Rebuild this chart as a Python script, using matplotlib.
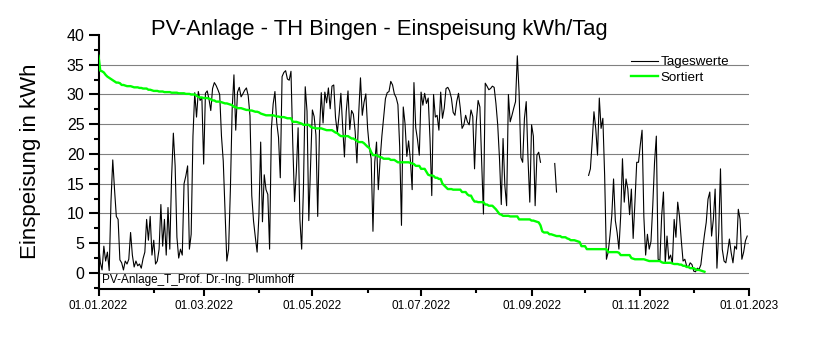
import numpy as np
import pandas as pd
import matplotlib
matplotlib.use('Agg')
import matplotlib.pyplot as plt
import matplotlib.dates as mdates
from matplotlib.ticker import MultipleLocator

nan = np.nan

# Daily feed-in values (kWh/day) for 2022; NaN = no data
tageswerte = [
    5.2, 1.8, 0.5, 4.5, 2, 3.5, 0.4, 12, 19, 14,
    9.5, 9, 2.2, 1.7, 0.5, 2, 1.5, 2.3, 6.8, 3,
    1, 2, 1.2, 1.5, 0.8, 2.4, 3.5, 9, 5.5, 9.5,
    3, 5.5, 1.5, 2, 4, 11.5, 4.5, 9, 3, 11,
    4, 16, 23.5, 18, 6, 2.5, 4, 3, 15, 16.3,
    18, 4, 6.5, 23, 30.3, 26.2, 30.5, 29, 29.5, 18.3,
    30.2, 30.6, 29.2, 27.3, 31, 32, 31.5, 30.8, 30, 23,
    18.8, 10.3, 2, 4, 14, 27.5, 33.3, 24, 30.4, 31.2,
    29.6, 30.1, 30.7, 31.1, 29.8, 26.4, 13, 8.7, 6, 3.5,
    9.6, 22, 8.6, 16.5, 14, 13.2, 4, 24.2, 28.4, 30.5,
    25.3, 22.8, 16, 33, 33.7, 34, 32.6, 32.4, 33.9, 21.8,
    12, 17, 24.4, 9, 4, 14.4, 31.3, 27.2, 8.8, 18,
    27.4, 26.3, 23.2, 9.5, 24, 30.3, 25.2, 30.4, 28.6, 31.1,
    27.6, 31.4, 31.6, 26.1, 23.6, 26.6, 30.2, 24.6, 19.5, 27.1,
    30.6, 24.1, 27.3, 26.7, 23.8, 18.5, 26.8, 32.8, 26.5, 28.7,
    30.1, 24.3, 21, 19.2, 7, 18.6, 22, 14, 19, 23,
    26.2, 29.3, 30.3, 30.5, 32.2, 31.6, 30.1, 29.5, 28.3, 21.2,
    8, 27.9, 25.1, 19.6, 22.2, 19, 14, 32, 24.4, 22.4,
    19.8, 30.4, 28.2, 30.2, 28.5, 29.4, 22.6, 13, 30, 26.2,
    26.5, 24, 30.4, 26, 27.7, 31, 31.2, 30.6, 29.4, 27,
    26.5, 28.8, 30.2, 27.7, 24.3, 24.9, 26.5, 25.4, 24.9, 27.4,
    26.3, 17.5, 25.4, 29, 27.9, 18.6, 9.9, 31.9, 31.4, 30.8,
    31, 31.4, 31.2, 28.5, 24.9, 19.2, 11.5, 22.6, 14.7, 11.3,
    30, 25.4, 26.5, 27.7, 28.8, 36.5, 30.3, 19.4, 18.6, 26,
    28.8, 19.2, 11.9, 24.9, 23, 11.3, 19.8, 20.3, 18.6,
    nan, nan, nan, nan, nan, nan, nan,
    18.4, 13.6,
    nan, nan, nan, nan, nan, nan, nan, nan, nan, nan, nan, nan, nan, nan, nan, nan, nan,
    16.4, 17.5, 22, 27.1, 24.3, 19.8, 29.4, 24.3, 26, 16.4,
    2.3, 3.5, 6.3, 9.6, 15.8, 8.8, 6.8, 4, 9.6, 19.2, 11.9, 15.8, 14.1, 9.8,
    14.1, 5.8, 11.9, 18.6, 18.6, 21.5, 24, 9.5, 3, 6.5, 4,
    5.3, 11.3, 18.6, 23, 2.3, 2.1, 9.6, 13.6, 1.7, 6.2,
    2.3, 3, 1.6, 9, 6, 11.9, 9.5, 5.5, 2, 2.3,
    1.2, 1, 1.7, 1.4, 0.3, 0.2, 0.8, 0.6, 1.4, 4,
    6.4, 8.5, 12.4, 13.6, 6.2, 9, 14.1, 0.8, 6.8, 17.5,
    4, 2, 1.7, 3.5, 5.7, 3.4, 1.7, 4.5, 4, 10.7,
    9, 2.3, 3.5, 5.4, 6.2,
]
start_date = '2022-01-01'
end_date = '2023-01-01'
series_labels = ['Tageswerte', 'Sortiert']
title = 'PV-Anlage - TH Bingen - Einspeisung kWh/Tag'
ylabel = 'Einspeisung in kWh'
note = 'PV-Anlage_T_Prof. Dr.-Ing. Plumhoff'
y_ticks = [0, 5, 10, 15, 20, 25, 30, 35, 40]

dates = pd.date_range(start_date, periods=len(tageswerte), freq='D')
vals = np.array(tageswerte, dtype=float)
sortiert = np.sort(vals[~np.isnan(vals)])[::-1]

plt.rcParams['font.family'] = ['Liberation Sans', 'DejaVu Sans']

W, H = 813, 360
fig = plt.figure(figsize=(W / 100, H / 100), dpi=100)
ax = fig.add_axes([98.5 / W, (H - 289) / H, (749 - 98.5) / W, (289 - 35) / H])

ax.plot(dates, vals, color='black', lw=0.8, label=series_labels[0], zorder=3)
ax.plot(dates[:len(sortiert)], sortiert, color='#00ff00', lw=1.7,
        label=series_labels[1], zorder=4)

ax.set_xlim(pd.Timestamp(start_date), pd.Timestamp(end_date))
ax.set_ylim(-2.7, 40)

ax.set_yticks(y_ticks)
ax.yaxis.set_minor_locator(MultipleLocator(2.5))
ax.xaxis.set_major_locator(mdates.MonthLocator(bymonth=[1, 3, 5, 7, 9, 11]))
ax.xaxis.set_minor_locator(mdates.MonthLocator())
ax.xaxis.set_major_formatter(mdates.DateFormatter('%d.%m.%Y'))

ax.grid(axis='y', color='#808080', lw=0.8, zorder=1)
ax.yaxis.get_gridlines()[-1].set_visible(False)

for s in ['top', 'right']:
    ax.spines[s].set_visible(False)
for s in ['left', 'bottom']:
    ax.spines[s].set_linewidth(1.5)

ax.tick_params(axis='x', which='major', direction='out', length=5, width=1.5,
               labelsize=8.5, pad=3)
ax.tick_params(axis='x', which='minor', direction='out', length=3, width=1.5)
ax.tick_params(axis='y', which='major', direction='out', length=7, width=1.5,
               labelsize=11.5, pad=3)
ax.tick_params(axis='y', which='minor', direction='out', length=3.5, width=1.5)

fig.text(379 / W, 1 - 35 / H, title, ha='center', va='baseline', fontsize=15.8)
fig.text(30.5 / W, 1 - 161 / H, ylabel, rotation=90, ha='center', va='center',
         fontsize=16)
fig.text(102 / W, 1 - 282.5 / H, note, ha='left', va='baseline', fontsize=8.5)

ax.legend(loc='upper left', bbox_to_anchor=(631 / W, 1 - 56 / H),
          bbox_transform=fig.transFigure, frameon=False, fontsize=9.6,
          handlelength=2.0, handletextpad=0.2, borderpad=0, borderaxespad=0,
          labelspacing=0.25)

fig.savefig('out.png', dpi=100)
